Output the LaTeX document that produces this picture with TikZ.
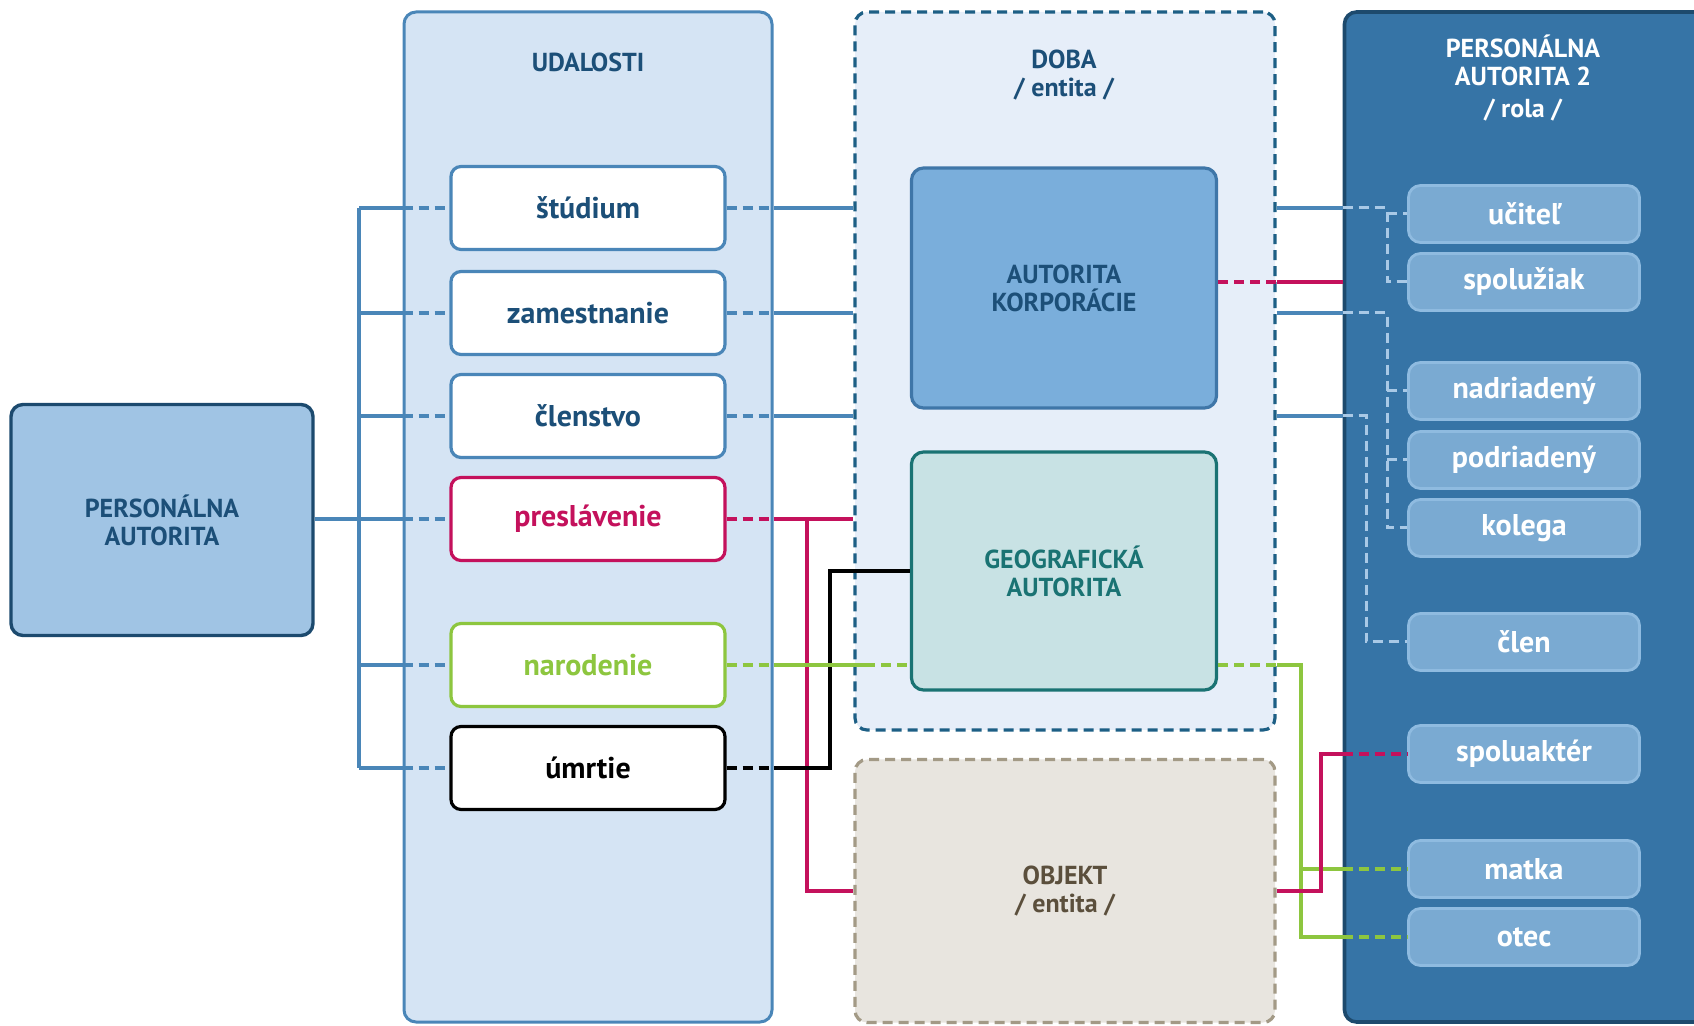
\documentclass[tikz,border=0pt]{standalone}
\usepackage{fontspec}
\setmainfont{PT Sans}

\definecolor{udalfill}{HTML}{D5E4F4}
\definecolor{bluelink}{HTML}{4A86B8}
\definecolor{dobafill}{HTML}{E6EEF9}
\definecolor{dobaedge}{HTML}{1D5F85}
\definecolor{darktext}{HTML}{1C4F78}
\definecolor{persfill}{HTML}{A0C4E4}
\definecolor{persedge}{HTML}{1C4A6E}
\definecolor{korpfill}{HTML}{7AAEDB}
\definecolor{korpedge}{HTML}{3F76A8}
\definecolor{geofill}{HTML}{C8E2E4}
\definecolor{geoedge}{HTML}{1A7373}
\definecolor{objfill}{HTML}{E8E5DF}
\definecolor{objedge}{HTML}{A39A86}
\definecolor{objtext}{HTML}{5B4F3C}
\definecolor{pafill}{HTML}{3674A6}
\definecolor{paedge}{HTML}{1D4A6D}
\definecolor{rolefill}{HTML}{7AAAD2}
\definecolor{roleedge}{HTML}{8FBBE0}
\definecolor{rolelink}{HTML}{A9C9E6}
\definecolor{crimson}{HTML}{C4115C}
\definecolor{leaf}{HTML}{8DC63F}

\begin{document}
\begin{tikzpicture}
  [
    x=.5pt, y=-.5pt,
    every node/.style={inner sep=0pt, align=center},
    title/.style={font=\fontsize{13}{14}\selectfont\bfseries},
    label/.style={font=\fontsize{15}{17}\selectfont\bfseries},
    broken/.style={dash pattern=on 5pt off 3pt},
    event/.style={label, draw=bluelink, fill=white, text=darktext, rounded corners=5pt,
      line width=1.6pt, minimum width=137pt, minimum height=41.5pt},
    role/.style={label, draw=roleedge, fill=rolefill, text=white, rounded corners=6pt,
      line width=1.4pt, minimum width=115.5pt, minimum height=28.5pt},
    inner/.style={title, rounded corners=6pt, line width=1.6pt,
      minimum width=152.5pt},
    bluelnk/.style={draw=bluelink, line width=1.7pt},
    redlnk/.style={draw=crimson, line width=1.7pt},
    greenlnk/.style={draw=leaf, line width=1.7pt},
    blacklnk/.style={draw=black, line width=1.7pt},
    rolelnk/.style={draw=rolelink, line width=1.5pt, broken},
  ]
    \clip (0,0) rectangle (1694,1026);

    % columns
    \node [draw=bluelink, fill=udalfill, rounded corners=6pt, line width=1.5pt,
      minimum width=184pt, minimum height=505pt] (udal) at (588,517) {};
    \node [title, text=darktext] (udaltitle) at (588,62) {UDALOSTI};
    \node [draw=dobaedge, fill=dobafill, rounded corners=6pt, line width=1.6pt, broken,
      minimum width=210pt, minimum height=359pt] (doba) at (1065,371) {};
    \node [title, text=darktext] (dobatitle) at (1064,75) {DOBA\\/ entita /};
    \node [title, draw=objedge, fill=objfill, text=objtext, rounded corners=6pt,
      line width=1.6pt, broken, minimum width=210pt, minimum height=131.5pt]
      (objekt) at (1065,891) {OBJEKT\\/ entita /};
    \node [draw=paedge, fill=pafill, rounded corners=6pt, line width=1.8pt,
      minimum width=188.5pt, minimum height=505pt] (pa) at (1533,517) {};
    \node [title, text=white] (patitle) at (1523,78) {PERSONÁLNA\\AUTORITA 2\\[2pt]/ rola /};

    % persons and authorities
    \node [title, draw=persedge, fill=persfill, text=darktext, rounded corners=6pt,
      line width=1.7pt, minimum width=151pt, minimum height=115.5pt]
      (pers) at (162,520) {PERSONÁLNA\\AUTORITA};
    \node [inner, draw=korpedge, fill=korpfill, text=darktext, minimum height=120pt]
      (korp) at (1064,288) {AUTORITA\\KORPORÁCIE};
    \node [inner, draw=geoedge, fill=geofill, text=geoedge, minimum height=119pt]
      (geo) at (1064,571) {GEOGRAFICKÁ\\AUTORITA};

    % events
    \node [event] (studium) at (588,208) {štúdium};
    \node [event] (zamestnanie) at (588,313) {zamestnanie};
    \node [event] (clenstvo) at (588,416) {členstvo};
    \node [event, draw=crimson, text=crimson] (preslavenie) at (588,519) {preslávenie};
    \node [event, draw=leaf, text=leaf] (narodenie) at (588,665) {narodenie};
    \node [event, draw=black, text=black] (umrtie) at (588,768) {úmrtie};

    % roles
    \node [role] (ucitel) at (1524,214) {učiteľ};
    \node [role] (spoluziak) at (1524,282) {spolužiak};
    \node [role] (nadriadeny) at (1524,391) {nadriadený};
    \node [role] (podriadeny) at (1524,460) {podriadený};
    \node [role] (kolega) at (1524,528) {kolega};
    \node [role] (clen) at (1524,642) {člen};
    \node [role] (spoluakter) at (1524,754) {spoluaktér};
    \node [role] (matka) at (1524,869) {matka};
    \node [role] (otec) at (1524,937) {otec};

    % left bus
    \coordinate (bus) at (359,0);
    \draw [bluelnk] (bus |- studium.west) -- (bus |- umrtie.west);
    \foreach \e in {studium,zamestnanie,clenstvo,narodenie,umrtie} {
      \draw [bluelnk] (bus |- \e.west) -- (udal.west |- \e.west);
      \draw [bluelnk, broken] (udal.west |- \e.west) -- (\e.west);
    }
    \draw [bluelnk] (pers.east |- preslavenie.west) -- (udal.west |- preslavenie.west);
    \draw [bluelnk, broken] (udal.west |- preslavenie.west) -- (preslavenie.west);

    % events to doba
    \foreach \e in {studium,zamestnanie,clenstvo} {
      \draw [bluelnk, broken] (\e.east) -- (udal.east |- \e.east);
      \draw [bluelnk] (udal.east |- \e.east) -- (doba.west |- \e.east);
      \draw [bluelnk] (doba.east |- \e.east) -- (pa.west |- \e.east);
    }
    \coordinate (rfork) at (807,0);
    \draw [redlnk, broken] (preslavenie.east) -- (udal.east |- preslavenie.east);
    \draw [redlnk] (udal.east |- preslavenie.east) -- (doba.west |- preslavenie.east);
    \draw [redlnk] (rfork |- preslavenie.east) |- (objekt.west);
    \coordinate (kfork) at (830,0);
    \draw [blacklnk, broken] (umrtie.east) -- (udal.east |- umrtie.east);
    \draw [blacklnk] (udal.east |- umrtie.east) -| (kfork |- geo.west) -- (geo.west);
    \draw [greenlnk, broken] (narodenie.east) -- (udal.east |- narodenie.east);
    \draw [greenlnk] (udal.east |- narodenie.east) -- ([xshift=6pt]doba.west |- narodenie.east);
    \draw [greenlnk, broken] ([xshift=6pt]doba.west |- narodenie.east) -- (geo.west |- narodenie.east);

    % authorities to roles
    \draw [redlnk, broken] ([yshift=3pt]korp.east) -- (doba.east |- spoluziak.west);
    \draw [redlnk] (doba.east |- spoluziak.west) -- (pa.west |- spoluziak.west);
    \coordinate (gfork) at (1301,0);
    \draw [greenlnk, broken] (geo.east |- narodenie.east) -- (doba.east |- narodenie.east);
    \draw [greenlnk] (doba.east |- narodenie.east) -| (gfork |- otec.west) -- (pa.west |- otec.west);
    \draw [greenlnk] (gfork |- matka.west) -- (pa.west |- matka.west);
    \foreach \r in {matka,otec}
      \draw [greenlnk, broken] (pa.west |- \r.west) -- (\r.west);
    \coordinate (ofork) at (1321,0);
    \draw [redlnk] (objekt.east) -| (ofork |- spoluakter.west) -- (pa.west |- spoluakter.west);
    \draw [redlnk, broken] (pa.west |- spoluakter.west) -- (spoluakter.west);

    % role stubs
    \coordinate (ta) at (1387,0);
    \coordinate (tb) at (1366,0);
    \draw [rolelnk] (pa.west |- studium.east) -| (ta |- spoluziak.west) -- (spoluziak.west);
    \draw [rolelnk] (ta |- ucitel.west) -- (ucitel.west);
    \draw [rolelnk] (pa.west |- zamestnanie.east) -| (ta |- kolega.west) -- (kolega.west);
    \draw [rolelnk] (ta |- nadriadeny.west) -- (nadriadeny.west);
    \draw [rolelnk] (ta |- podriadeny.west) -- (podriadeny.west);
    \draw [rolelnk] (pa.west |- clenstvo.east) -| (tb |- clen.west) -- (clen.west);
  \end{tikzpicture}
\end{document}
